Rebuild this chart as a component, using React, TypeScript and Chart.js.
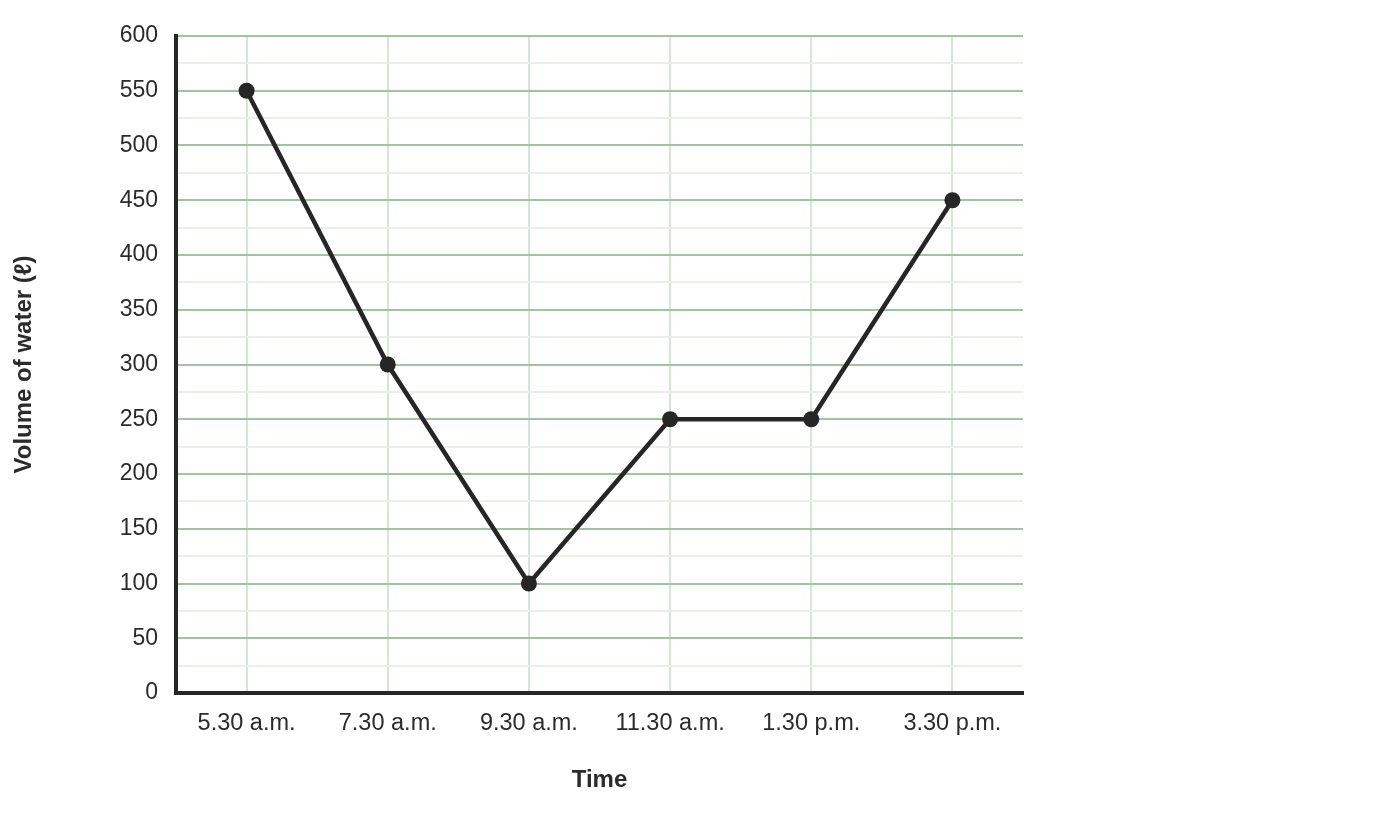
import React, { useEffect, useRef } from "react";
import { Chart, registerables } from "chart.js";

Chart.register(...registerables);

const categories = ["5.30 a.m.", "7.30 a.m.", "9.30 a.m.", "11.30 a.m.", "1.30 p.m.", "3.30 p.m."];
const volumes = [550, 300, 100, 250, 250, 450];
const yMin = 0;
const yMax = 600;
const yStep = 25;
const yLabelStep = 50;
const xTitle = "Time";
const yTitle = "Volume of water (ℓ)";

export default function App() {
  const ref = useRef<HTMLCanvasElement | null>(null);
  useEffect(() => {
    if (!ref.current) return;
    const font = "'Liberation Sans', Arial, sans-serif";
    const chart = new Chart(ref.current, {
      type: "line",
      data: {
        labels: categories,
        datasets: [
          {
            data: volumes,
            borderColor: "#262626",
            backgroundColor: "#262626",
            borderWidth: 4.5,
            pointRadius: 8,
            pointBorderWidth: 0,
            pointBackgroundColor: "#262626",
            pointBorderColor: "#262626",
            tension: 0,
          },
        ],
      },
      options: {
        animation: false,
        responsive: true,
        maintainAspectRatio: false,
        layout: { padding: { top: 28, right: 369, bottom: 0, left: 0 } },
        plugins: { legend: { display: false }, tooltip: { enabled: false } },
        scales: {
          x: {
            type: "category",
            offset: true,
            grid: { color: "#d4e6d4", lineWidth: 2, drawTicks: false, offset: false },
            border: { color: "#262626", width: 4 },
            ticks: { color: "#2b2b2b", font: { family: font, size: 23.5 }, padding: 16, maxRotation: 0 },
            title: { display: true, text: xTitle, color: "#2b2b2b", font: { family: font, size: 24, weight: "bold" }, padding: { top: 13, bottom: 37 } },
          },
          y: {
            min: yMin,
            max: yMax,
            grid: {
              drawTicks: false,
              lineWidth: 2,
              color: (ctx: any) => (ctx.tick && ctx.tick.value % yLabelStep === 0 ? "#a0c4a0" : "#e8f0e8"),
            },
            border: { color: "#262626", width: 4 },
            ticks: {
              stepSize: yStep,
              autoSkip: false,
              color: "#2b2b2b",
              font: { family: font, size: 23 },
              padding: 18,
              callback: (v: any) => (Number(v) % yLabelStep === 0 ? String(v) : ""),
            },
            title: { display: true, text: yTitle, color: "#2b2b2b", font: { family: font, size: 24, weight: "bold" }, padding: { top: 2, bottom: 0 } },
            afterFit: (scale: any) => {
              scale.width = 168;
              scale.paddingTop = 0;
              scale.paddingBottom = 0;
            },
          },
        },
      },
    });
    return () => chart.destroy();
  }, []);
  return (
    <div style={{ width: 1384, height: 824, position: "relative" }}>
      <canvas ref={ref} />
    </div>
  );
}
